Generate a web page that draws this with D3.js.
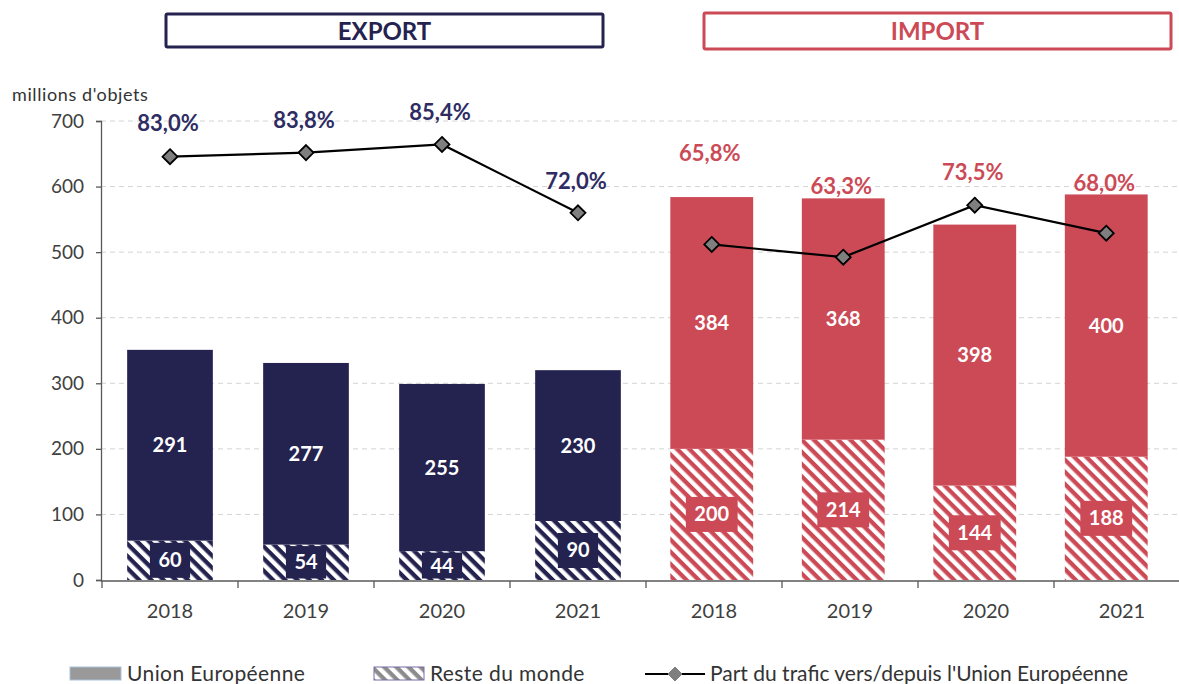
<!DOCTYPE html>
<html>
<head>
<meta charset="utf-8">
<script src="https://cdn.jsdelivr.net/npm/d3@7"></script>
<style>
  html, body { margin: 0; padding: 0; background: #fff; }
  svg { display: block; font-family: Lato, "Open Sans", sans-serif; }
</style>
</head>
<body>
<svg id="chart" width="1179" height="684"></svg>
<script>
// ---------------- DATA ----------------
const years = ["2018", "2019", "2020", "2021"];
const groups = ["EXPORT", "IMPORT"];
const exportUE = [291, 277, 255, 230];
const exportRest = [60, 54, 44, 90];
const importUE = [384, 368, 398, 400];
const importRest = [200, 214, 144, 188];
const exportShare = [83.0, 83.8, 85.4, 72.0];
const importShare = [65.8, 63.3, 73.5, 68.0];
const yTicks = [0, 100, 200, 300, 400, 500, 600, 700];
const yTitle = "millions d'objets";
const legendLabels = ["Union Européenne", "Reste du monde", "Part du trafic vers/depuis l'Union Européenne"];

// ---------------- STYLE ----------------
const NAVY = "#24224f";
const RED = "#cc4a56";
const AXIS = "#595959";
const TEXT = "#404040";

const svg = d3.select("#chart");
const defs = svg.append("defs");
function hatch(id, color) {
  const p = defs.append("pattern").attr("id", id)
    .attr("patternUnits", "userSpaceOnUse")
    .attr("width", 8.6).attr("height", 8.6)
    .attr("patternTransform", "rotate(-45)");
  p.append("rect").attr("width", 8.6).attr("height", 8.6).attr("fill", color);
  p.append("rect").attr("width", 4.3).attr("height", 8.6).attr("fill", "#fff");
}
hatch("hNavy", NAVY);
hatch("hRed", RED);
hatch("hGrey", "#8c8c8c");

// ---------------- SCALES ----------------
const y = d3.scaleLinear().domain([0, 700]).range([580, 121]);
const yPct = d3.scaleLinear().domain([0, 90]).range([580, 121]);
const keys = [];
groups.forEach(g => years.forEach(yr => keys.push(g + "|" + yr)));
const xAxisScale = d3.scaleBand().domain(keys).range([102, 1190]);
const xExp = d3.scaleBand().domain(years).range([102, 646]);
const xImp = d3.scaleBand().domain(years).range([646, 1172]);
const barFrac = 0.63;

// ---------------- GRID ----------------
svg.append("g").selectAll("line").data(yTicks.filter(d => d > 0)).join("line")
  .attr("x1", 101).attr("x2", 1179)
  .attr("y1", d => y(d)).attr("y2", d => y(d))
  .attr("stroke", "#d4d4d4").attr("stroke-width", 1).attr("stroke-dasharray", "5,4");

// ---------------- Y AXIS ----------------
const yAxis = svg.append("g").attr("transform", "translate(101,0)")
  .call(d3.axisLeft(y).tickValues(yTicks).tickSize(5).tickPadding(12).tickFormat(d3.format("d")));
yAxis.select(".domain").attr("stroke", AXIS).attr("stroke-width", 1.3);
yAxis.selectAll(".tick line").attr("stroke", AXIS).attr("stroke-width", 1.3);
yAxis.selectAll(".tick text").attr("fill", TEXT).style("font-size", "19px").style("font-family", "Lato, sans-serif");

svg.append("text").attr("x", 12).attr("y", 101).text(yTitle)
  .attr("fill", "#333").style("font-size", "18px").style("letter-spacing", "0.6px");

// ---------------- X AXIS ----------------
const xAxis = svg.append("g").attr("transform", "translate(0,581)")
  .call(d3.axisBottom(xAxisScale).tickSize(0).tickPadding(23).tickFormat(d => d.split("|")[1]));
xAxis.select(".domain").remove();
xAxis.selectAll(".tick text").attr("fill", TEXT).style("font-size", "20px").style("font-family", "Lato, sans-serif");
svg.append("line").attr("x1", 101).attr("x2", 1190).attr("y1", 581).attr("y2", 581)
  .attr("stroke", AXIS).attr("stroke-width", 1.3);
const bounds = [xAxisScale.range()[0]].concat(keys.map(k => xAxisScale(k) + xAxisScale.bandwidth()));
svg.append("g").selectAll("line").data(bounds).join("line")
  .attr("x1", d => d).attr("x2", d => d).attr("y1", 581).attr("y2", 588)
  .attr("stroke", AXIS).attr("stroke-width", 1.3);

// ---------------- BARS ----------------
function drawGroup(xs, ue, rest, color, hatchId) {
  const rows = years.map((yr, i) => ({ yr, ue: ue[i], rest: rest[i] }));
  const g = svg.append("g");
  const bw = xs.bandwidth() * barFrac;
  const cx = d => xs(d.yr) + xs.bandwidth() / 2;
  // Reste du monde (bottom, hatched)
  g.selectAll("rect.rest").data(rows).join("rect").attr("class", "rest")
    .attr("x", d => cx(d) - bw / 2).attr("width", bw)
    .attr("y", d => y(d.rest)).attr("height", d => y(0) - y(d.rest))
    .attr("fill", `url(#${hatchId})`);
  // Union Européenne (top, solid)
  g.selectAll("rect.ue").data(rows).join("rect").attr("class", "ue")
    .attr("x", d => cx(d) - bw / 2).attr("width", bw)
    .attr("y", d => y(d.rest + d.ue)).attr("height", d => y(d.rest) - y(d.rest + d.ue))
    .attr("fill", color);
  // UE labels
  g.selectAll("text.ue").data(rows).join("text").attr("class", "ue")
    .attr("x", cx).attr("y", d => y(d.rest + d.ue / 2))
    .attr("text-anchor", "middle").attr("dy", "0.35em")
    .attr("fill", "#fff").style("font-size", "20px").style("font-weight", "bold")
    .text(d => d.ue);
  // Rest labels with box
  rows.forEach(d => {
    const ty = y(d.rest / 2);
    const box = g.append("rect").attr("fill", color);
    const t = g.append("text").attr("x", cx(d)).attr("y", ty)
      .attr("text-anchor", "middle").attr("dy", "0.35em")
      .attr("fill", "#fff").style("font-size", "20px").style("font-weight", "bold")
      .text(d.rest);
    const w = t.node().getComputedTextLength() + 17;
    const h = Math.min(35, (y(0) - y(d.rest)) - 3);
    box.attr("x", cx(d) - w / 2).attr("y", ty - h / 2).attr("width", w).attr("height", h);
  });
}
drawGroup(xExp, exportUE, exportRest, NAVY, "hNavy");
drawGroup(xImp, importUE, importRest, RED, "hRed");

// ---------------- LINES ----------------
function drawLine(xs, share, color, labelOffsets) {
  const pts = years.map((yr, i) => ({ x: xs(yr) + xs.bandwidth() / 2, v: share[i], off: labelOffsets[i] }));
  const g = svg.append("g");
  g.append("path").datum(pts)
    .attr("d", d3.line().x(d => d.x).y(d => yPct(d.v)))
    .attr("fill", "none").attr("stroke", "#000").attr("stroke-width", 2.2);
  g.selectAll("path.pt").data(pts).join("path").attr("class", "pt")
    .attr("transform", d => `translate(${d.x},${yPct(d.v)})`)
    .attr("d", "M0,-7.5L7.5,0L0,7.5L-7.5,0Z")
    .attr("fill", "#7f7f7f").attr("stroke", "#000").attr("stroke-width", 1.8);
  g.selectAll("text").data(pts).join("text")
    .attr("x", d => d.x - 2).attr("y", d => yPct(d.v) + d.off)
    .attr("text-anchor", "middle").attr("dy", "0.35em")
    .attr("fill", color).style("font-size", "22px").style("font-weight", "bold")
    .text(d => d3.format(".1f")(d.v).replace(".", ",") + "%");
}
drawLine(xExp, exportShare, "#2e2c63", [-33, -32, -32, -32]);
drawLine(xImp, importShare, RED, [-91, -71, -33, -50]);

// ---------------- GROUP TITLES ----------------
const titleBoxes = [
  { label: groups[0], color: NAVY, x0: 166, x1: 603, y0: 14, y1: 47 },
  { label: groups[1], color: RED, x0: 704, x1: 1171, y0: 13, y1: 49 }
];
titleBoxes.forEach(b => {
  svg.append("rect").attr("x", b.x0).attr("y", b.y0).attr("width", b.x1 - b.x0).attr("height", b.y1 - b.y0)
    .attr("fill", "#fff").attr("stroke", b.color).attr("stroke-width", 3).attr("rx", 1.5);
  svg.append("text").attr("x", (b.x0 + b.x1) / 2).attr("y", (b.y0 + b.y1) / 2 + 1)
    .attr("text-anchor", "middle").attr("dy", "0.35em")
    .attr("fill", b.color).style("font-size", "24px").style("font-weight", "bold")
    .text(b.label);
});

// ---------------- LEGEND ----------------
const lg = svg.append("g");
const legFont = "21px";
lg.append("rect").attr("x", 70).attr("y", 667).attr("width", 51).attr("height", 13)
  .attr("fill", "#999999").attr("stroke", "#a9c1dc").attr("stroke-width", 1);
lg.append("text").attr("x", 127).attr("y", 674).attr("dy", "0.35em").text(legendLabels[0])
  .attr("fill", "#333").style("font-size", legFont).style("letter-spacing", "0.4px");
lg.append("rect").attr("x", 374).attr("y", 667).attr("width", 50).attr("height", 13)
  .attr("fill", "url(#hGrey)").attr("stroke", "#7b6aa8").attr("stroke-width", 1);
lg.append("text").attr("x", 430).attr("y", 674).attr("dy", "0.35em").text(legendLabels[1])
  .attr("fill", "#333").style("font-size", legFont).style("letter-spacing", "0.4px");
lg.append("line").attr("x1", 645).attr("x2", 705).attr("y1", 674).attr("y2", 674)
  .attr("stroke", "#000").attr("stroke-width", 2);
lg.append("path").attr("transform", "translate(675,674)").attr("d", "M0,-7L7,0L0,7L-7,0Z")
  .attr("fill", "#7f7f7f").attr("stroke", "#7f7f7f");
lg.append("text").attr("x", 710).attr("y", 674).attr("dy", "0.35em").text(legendLabels[2])
  .attr("fill", "#333").style("font-size", legFont);
</script>
</body>
</html>
